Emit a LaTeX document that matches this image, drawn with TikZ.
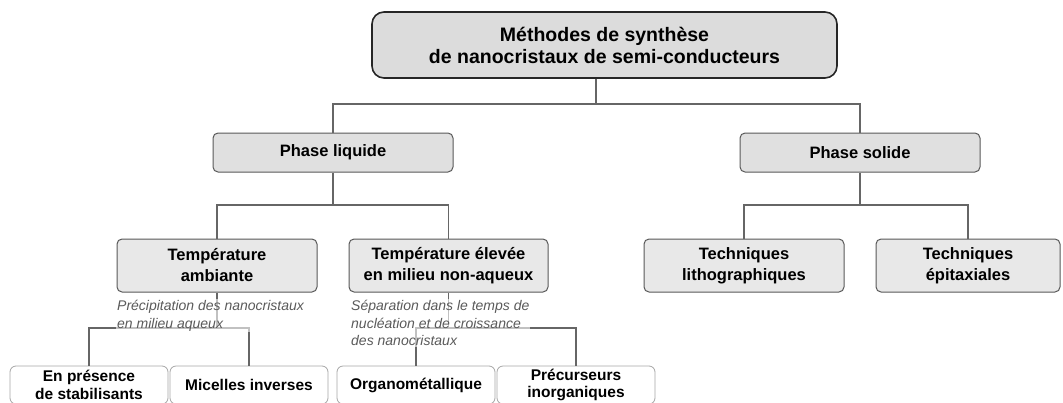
\documentclass[tikz,border=0pt]{standalone}
\usepackage{fontspec}
\setmainfont{Liberation Sans}
\usetikzlibrary{positioning}

\definecolor{linegray}{HTML}{666666}
\definecolor{topfill}{HTML}{DCDCDC}
\definecolor{phasefill}{HTML}{E0E0E0}
\definecolor{tempfill}{HTML}{E8E8E8}
\definecolor{notegray}{HTML}{5A5A5A}

\tikzset{
  topbox/.style={draw=black!85, line width=1.6pt, fill=topfill, rounded corners=12pt,
    minimum width=465pt, minimum height=66pt, align=center, inner sep=0pt,
    font=\fontsize{19.5}{22}\selectfont\bfseries},
  phasebox/.style={draw=black!65, line width=1pt, fill=phasefill, rounded corners=5pt,
    minimum width=240pt, minimum height=39pt, align=center, inner sep=0pt,
    font=\fontsize{16.5}{21}\selectfont\bfseries},
  tempbox/.style={draw=black!65, line width=1pt, fill=tempfill, rounded corners=5pt,
    minimum width=200pt, minimum height=53pt, align=center, inner sep=0pt,
    font=\fontsize{16.5}{21}\selectfont\bfseries},
  leafbox/.style={draw=black!35, line width=0.8pt, fill=white, rounded corners=6pt,
    minimum width=158pt, minimum height=38pt, align=center, inner sep=0pt,
    font=\fontsize{15.5}{17.5}\selectfont\bfseries},
  note/.style={anchor=north west, align=left, inner sep=1pt, text=notegray,
    fill=white, fill opacity=0.6, text opacity=1,
    font=\fontsize{14}{17.5}\selectfont\itshape},
  conn/.style={draw=linegray, line width=1.1pt}
}

\begin{document}
\begin{tikzpicture}[x=1pt, y=-1pt]
  \useasboundingbox (0,0) rectangle (1063,402);
  \clip (0,0) rectangle (1063,402);

  % niveau 1
  \node[topbox] (methodes) at (604.5,45) {Méthodes de synthèse\\de nanocristaux de semi-conducteurs};

  % niveau 2
  \node[phasebox] (liquide) at (333,152.5) {Phase liquide};
  \node[phasebox] (solide) at (860,152.5) {Phase solide};

  % niveau 3
  \node[tempbox] (ambiante) at (217,265.5) {Température\\ambiante};
  \node[tempbox, minimum width=199pt] (elevee) at (448.5,265.5) {Température élevée\\en milieu non-aqueux};
  \node[tempbox] (litho) at (744,265.5) {Techniques\\lithographiques};
  \node[tempbox, minimum width=184pt] (epitax) at (968,265.5) {Techniques\\épitaxiales};

  % niveau 4
  \node[leafbox] (stabil) at (89,385) {En présence\\de stabilisants};
  \node[leafbox] (micelles) at (249,385) {Micelles inverses};
  \node[leafbox] (organo) at (416,385) {Organométallique};
  \node[leafbox] (precurs) at (576,385) {Précurseurs\\inorganiques};

  % jonctions
  \coordinate (j1) at (596,104);
  \coordinate (j2) at (333,205);
  \coordinate (j3) at (860,205);
  \coordinate (j4) at (217,328);
  \coordinate (j5) at (448.5,328);

  \draw[conn] (methodes.south -| j1) -- (j1);
  \draw[conn] (liquide.north) |- (j1) -| (solide.north);
  \draw[conn] (liquide.south) -- (j2);
  \draw[conn] (ambiante.north) |- (j2) -| (elevee.north);
  \draw[conn] (solide.south) -- (j3);
  \draw[conn] (litho.north) |- (j3) -| (epitax.north);
  \draw[conn] (ambiante.south) -- (j4);
  \draw[conn] (stabil.north) |- (j4) -| (micelles.north);
  \draw[conn] (elevee.south) -- (j5);
  \draw[conn] (organo.north) |- (j5) -| (precurs.north);

  % commentaires
  \node[note] (precip) at (116,299) {Précipitation des nanocristaux\\en milieu aqueux};
  \node[note] (separ) at (350,299) {Séparation dans le temps de\\nucléation et de croissance\\des nanocristaux};
\end{tikzpicture}
\end{document}
